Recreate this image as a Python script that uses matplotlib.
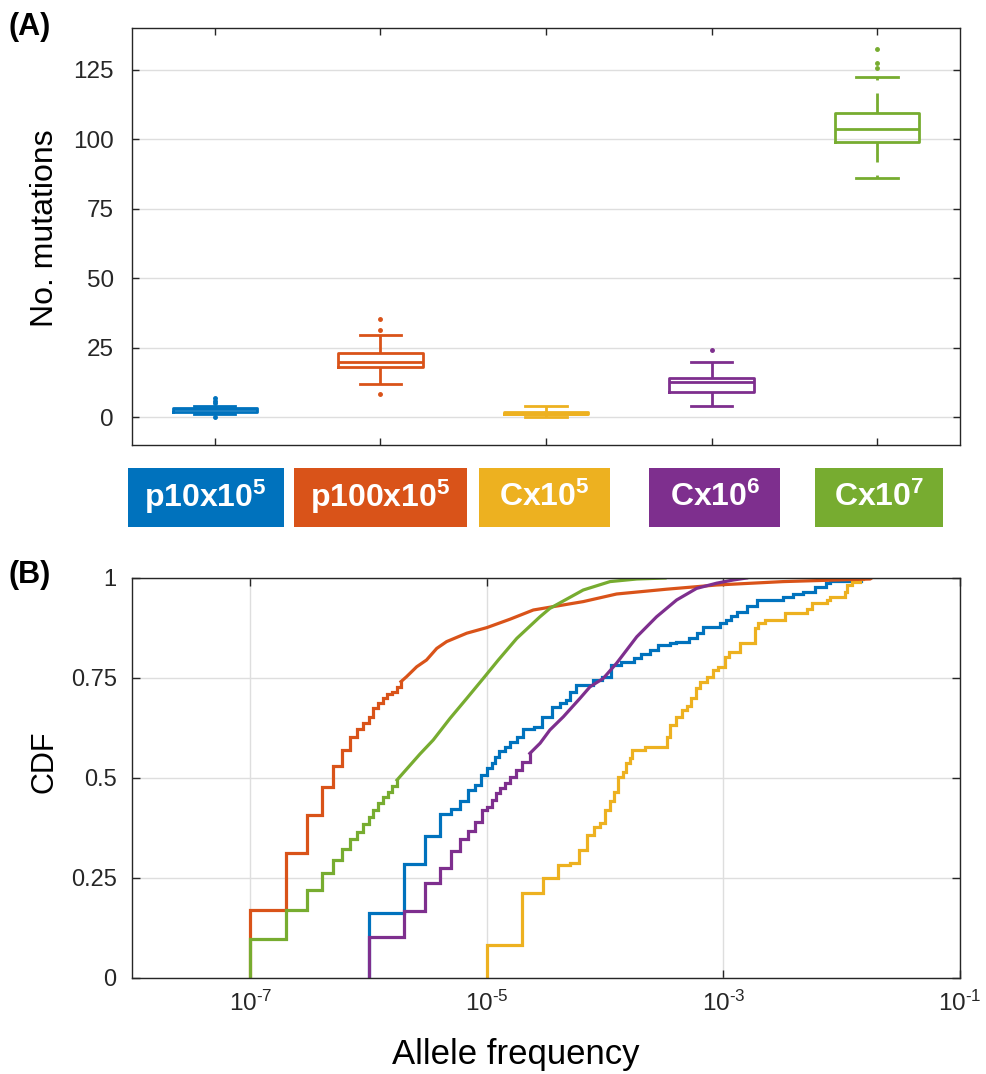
import matplotlib
matplotlib.use("Agg")
import matplotlib.pyplot as plt
import matplotlib.transforms as mtransforms
from matplotlib.patches import Rectangle

plt.rcParams["font.family"] = ["Liberation Sans", "DejaVu Sans"]
plt.rcParams["mathtext.fontset"] = "custom"
plt.rcParams["mathtext.rm"] = "Liberation Sans"
plt.rcParams["mathtext.it"] = "Liberation Sans:italic"
plt.rcParams["mathtext.bf"] = "Liberation Sans:bold"

# ---- panel A: number of mutations per condition ----
group_labels = [r"$\mathbf{p10x10^{5}}$", r"$\mathbf{p100x10^{5}}$",
                r"$\mathbf{Cx10^{5}}$", r"$\mathbf{Cx10^{6}}$", r"$\mathbf{Cx10^{7}}$"]
group_colors = ["#0072BD", "#D95319", "#EDB120", "#7E2F8E", "#77AC30"]

box_q1 = [2, 18, 1, 9, 99]
box_median = [3, 20, 1, 12.5, 103.5]
box_q3 = [3.4, 23, 2, 14, 109.5]
whisker_low = [1, 12, 0, 4, 86]
whisker_high = [4, 29.5, 4, 20, 122.5]
outliers = [[0, 5, 6, 7], [8.3, 31.3, 35.3], [], [24.2], [125.6, 127.5, 132.6]]

# ---- panel B: CDF of allele frequencies ----
freq_ticks = [1e-7, 1e-5, 1e-3, 1e-1]
freq_tick_labels = [r"$10^{\text{-7}}$", r"$10^{\text{-5}}$",
                    r"$10^{\text{-3}}$", r"$10^{\text{-1}}$"]
cdf_ticks = [0, 0.25, 0.5, 0.75, 1]
cdf_tick_labels = ["0", "0.25", "0.5", "0.75", "1"]

# stepped part of each curve: frequency of each jump and CDF after it
blue_step_af = [1e-6, 2e-6, 3e-6, 4e-6, 4.94e-6, 5.93e-6, 6.97e-6, 7.94e-6, 8.85e-6,
                1.0e-5, 1.10e-5, 1.17e-5, 1.27e-5, 1.42e-5, 1.58e-5, 1.79e-5, 2.04e-5,
                2.51e-5, 2.95e-5, 3.55e-5, 4.17e-5, 4.68e-5, 5.01e-5, 5.62e-5, 7.94e-5,
                9.33e-5, 1.12e-4, 1.35e-4, 1.74e-4, 2.0e-4, 2.40e-4, 2.82e-4, 3.55e-4,
                3.98e-4, 5.13e-4, 5.93e-4, 6.76e-4, 9.33e-4, 1.06e-3, 1.17e-3, 1.29e-3,
                1.58e-3, 1.91e-3, 3.20e-3, 3.89e-3, 4.68e-3, 5.89e-3, 7.41e-3, 7.94e-3,
                1.45e-2]
blue_step_cdf = [0.162, 0.284, 0.355, 0.409, 0.422, 0.4425, 0.47, 0.4825, 0.5075,
                 0.524, 0.538, 0.553, 0.5675, 0.578, 0.591, 0.603, 0.622,
                 0.628, 0.653, 0.678, 0.688, 0.695, 0.716, 0.7325, 0.745,
                 0.753, 0.7825, 0.79, 0.799, 0.81, 0.82, 0.8325, 0.838,
                 0.841, 0.85, 0.862, 0.878, 0.887, 0.895, 0.905, 0.916,
                 0.93, 0.945, 0.953, 0.96, 0.966, 0.978, 0.988, 0.993,
                 1.0]

orange_step_af = [1e-7, 2e-7, 3e-7, 4e-7, 5e-7, 6e-7, 7e-7, 8e-7, 9e-7, 1e-6,
                  1.08e-6, 1.19e-6, 1.32e-6, 1.42e-6, 1.57e-6, 1.74e-6, 1.88e-6]
orange_step_cdf = [0.17, 0.313, 0.407, 0.477, 0.53, 0.57, 0.602, 0.622, 0.637, 0.653,
                   0.674, 0.687, 0.699, 0.71, 0.716, 0.728, 0.741]
orange_tail_af = [1.88e-6, 2.09e-6, 2.55e-6, 3.09e-6, 3.77e-6, 4.57e-6, 6.76e-6, 1e-5,
                  1.57e-5, 2.47e-5, 6.53e-5, 1.25e-4, 3.31e-4, 8.75e-4, 3.2e-3,
                  1.74e-2, 1.79e-2]
orange_tail_cdf = [0.741, 0.753, 0.778, 0.795, 0.824, 0.841, 0.862, 0.876,
                   0.897, 0.92, 0.941, 0.96, 0.972, 0.9825, 0.991,
                   0.9975, 1.0]

yellow_step_af = [1e-5, 2e-5, 3e-5, 4e-5, 5e-5, 6e-5, 6.98e-5, 8.04e-5, 9.03e-5,
                  1.0e-4, 1.10e-4, 1.19e-4, 1.29e-4, 1.41e-4, 1.50e-4, 1.62e-4,
                  1.70e-4, 2.16e-4, 3.31e-4, 3.55e-4, 3.98e-4, 4.44e-4, 4.90e-4,
                  5.27e-4, 5.86e-4, 6.31e-4, 7.21e-4, 8.20e-4, 9.04e-4, 1.03e-3,
                  1.12e-3, 1.38e-3, 1.85e-3, 1.97e-3, 2.24e-3, 3.31e-3, 5.05e-3,
                  5.56e-3, 7.45e-3, 7.94e-3, 1.06e-2, 1.10e-2, 1.21e-2, 1.42e-2,
                  1.51e-2]
yellow_step_cdf = [0.0825, 0.213, 0.25, 0.282, 0.288, 0.32, 0.3575, 0.377, 0.388,
                   0.42, 0.443, 0.466, 0.503, 0.516, 0.537, 0.549,
                   0.57, 0.578, 0.603, 0.6325, 0.653, 0.67, 0.68,
                   0.699, 0.724, 0.741, 0.753, 0.77, 0.778, 0.803,
                   0.816, 0.838, 0.874, 0.887, 0.895, 0.913, 0.922,
                   0.937, 0.945, 0.953, 0.966, 0.9825, 0.991, 0.998,
                   1.0]

purple_step_af = [1e-6, 2e-6, 3e-6, 4e-6, 4.94e-6, 5.93e-6, 6.97e-6, 7.94e-6, 9.12e-6,
                  1.0e-5, 1.10e-5, 1.20e-5, 1.29e-5, 1.41e-5, 1.58e-5, 1.78e-5,
                  2.0e-5, 2.31e-5]
purple_step_cdf = [0.102, 0.168, 0.237, 0.274, 0.3175, 0.347, 0.3675, 0.389, 0.42,
                   0.428, 0.445, 0.462, 0.474, 0.488, 0.503, 0.52,
                   0.541, 0.5615]
purple_tail_af = [2.31e-5, 2.82e-5, 3.41e-5, 4.43e-5, 6.12e-5, 7.45e-5, 9.64e-5,
                  1.25e-4, 1.85e-4, 2.72e-4, 4.02e-4, 5.93e-4, 8.75e-4, 1.21e-3,
                  1.57e-3]
purple_tail_cdf = [0.5615, 0.587, 0.62, 0.653, 0.699, 0.728, 0.749,
                   0.787, 0.853, 0.903, 0.945, 0.974, 0.987, 0.995,
                   1.0]

green_step_af = [1e-7, 2e-7, 3e-7, 4e-7, 5e-7, 6e-7, 7e-7, 8e-7, 9e-7, 1e-6,
                 1.10e-6, 1.20e-6, 1.32e-6, 1.45e-6, 1.58e-6, 1.74e-6]
green_step_cdf = [0.097, 0.17, 0.22, 0.262, 0.295, 0.322, 0.347, 0.366, 0.385, 0.403,
                  0.42, 0.437, 0.453, 0.466, 0.48, 0.495]
green_tail_af = [1.74e-6, 2.72e-6, 3.52e-6, 4.88e-6, 6.76e-6, 9.33e-6, 1.25e-5,
                 1.79e-5, 2.81e-5, 3.41e-5, 6.53e-5, 1.10e-4, 1.85e-4, 3.21e-4]
green_tail_cdf = [0.495, 0.56, 0.595, 0.649, 0.699, 0.749, 0.795,
                  0.849, 0.903, 0.924, 0.97, 0.991, 0.9975, 1.0]

GRID = "#dedede"
AXIS = "#262626"
BOX_LW = 2.0
CDF_LW = 2.3

fig = plt.figure(figsize=(9.87, 10.74), dpi=100)
ax_a = fig.add_axes([132 / 987, 1 - 445 / 1074, 828 / 987, 417 / 1074])
ax_b = fig.add_axes([132 / 987, 1 - 978 / 1074, 828 / 987, 400 / 1074])

# box plots
positions = [1, 2, 3, 4, 5]
stats = []
for i in range(len(positions)):
    stats.append({"med": box_median[i], "q1": box_q1[i], "q3": box_q3[i],
                  "whislo": whisker_low[i], "whishi": whisker_high[i],
                  "fliers": outliers[i]})
parts = ax_a.bxp(stats, positions=positions, widths=0.51, showfliers=True,
                 manage_ticks=False,
                 boxprops=dict(linewidth=BOX_LW),
                 medianprops=dict(linewidth=BOX_LW),
                 whiskerprops=dict(linewidth=BOX_LW, linestyle=(0, (7.2, 4.7))),
                 capprops=dict(linewidth=BOX_LW),
                 flierprops=dict(marker="o", markersize=2.5, linestyle="none"))
for i, color in enumerate(group_colors):
    parts["boxes"][i].set_color(color)
    parts["medians"][i].set_color(color)
    for art in parts["whiskers"][2 * i:2 * i + 2] + parts["caps"][2 * i:2 * i + 2]:
        art.set_color(color)
    parts["fliers"][i].set_markerfacecolor(color)
    parts["fliers"][i].set_markeredgecolor(color)
for cap in parts["caps"]:
    xd = cap.get_xdata()
    mid = (xd[0] + xd[1]) / 2
    cap.set_xdata([mid - 0.125, mid + 0.125])

ax_a.set_xlim(0.5, 5.5)
ax_a.set_ylim(-10, 140)
ax_a.set_xticks(positions)
ax_a.set_xticklabels([])
ax_a.set_yticks([0, 25, 50, 75, 100, 125])
ax_a.tick_params(axis="x", direction="in", top=True, length=5, width=1, color=AXIS)
ax_a.tick_params(axis="y", direction="in", right=True, length=5, width=1, color=AXIS,
                 labelsize=17.5, labelcolor=AXIS, pad=13)
ax_a.yaxis.grid(True, color=GRID, linewidth=1)
ax_a.set_axisbelow(True)
ax_a.set_ylabel("No. mutations", fontsize=23, color="black")
ax_a.yaxis.set_label_coords(-0.087, 0.52)

# coloured condition labels under the box plots
label_centers = [0.945, 2.0, 2.99, 4.02, 5.01]
label_widths = [0.94, 1.04, 0.79, 0.79, 0.77]
strip = mtransforms.blended_transform_factory(ax_a.transData, fig.transFigure)
for cx, w, text, color in zip(label_centers, label_widths, group_labels, group_colors):
    fig.patches.append(Rectangle((cx - w / 2, 1 - 527 / 1074), w, 59 / 1074,
                                 transform=strip, facecolor=color, edgecolor="none"))
    fig.text(cx, 1 - 497 / 1074, text, transform=strip, ha="center", va="center",
             color="white", fontsize=23)

# CDF curves
step_series = [
    (blue_step_af, blue_step_cdf, group_colors[0]),
    (orange_step_af, orange_step_cdf, group_colors[1]),
    (yellow_step_af, yellow_step_cdf, group_colors[2]),
    (purple_step_af, purple_step_cdf, group_colors[3]),
    (green_step_af, green_step_cdf, group_colors[4]),
]
for af, cdf, color in step_series:
    ax_b.plot([af[0]] + af, [0] + cdf, drawstyle="steps-post", color=color,
              linewidth=CDF_LW, solid_joinstyle="miter")
tail_series = [
    (orange_tail_af, orange_tail_cdf, group_colors[1]),
    (purple_tail_af, purple_tail_cdf, group_colors[3]),
    (green_tail_af, green_tail_cdf, group_colors[4]),
]
for af, cdf, color in tail_series:
    ax_b.plot(af, cdf, color=color, linewidth=CDF_LW)

ax_b.set_xscale("log")
ax_b.set_xlim(1e-8, 1e-1)
ax_b.set_ylim(0, 1)
ax_b.set_xticks(freq_ticks)
ax_b.set_xticklabels(freq_tick_labels)
ax_b.xaxis.set_minor_locator(matplotlib.ticker.NullLocator())
ax_b.set_yticks(cdf_ticks)
ax_b.set_yticklabels(cdf_tick_labels)
ax_b.tick_params(axis="x", direction="in", top=True, length=6, width=1, color=AXIS,
                 labelsize=17.5, labelcolor=AXIS, pad=9)
ax_b.tick_params(axis="y", direction="in", right=True, length=6, width=1, color=AXIS,
                 labelsize=17, labelcolor=AXIS, pad=11)
ax_b.grid(True, color=GRID, linewidth=1)
ax_b.set_axisbelow(True)
ax_b.set_ylabel("CDF", fontsize=22, color="black")
ax_b.yaxis.set_label_coords(-0.087, 0.54)
ax_b.set_xlabel("Allele frequency", fontsize=25, color="black")
ax_b.xaxis.set_label_coords(0.464, -0.15)

for ax in (ax_a, ax_b):
    for spine in ax.spines.values():
        spine.set_color(AXIS)
        spine.set_linewidth(1)

fig.text(8 / 987, 1 - 12 / 1074, "(A)", fontsize=22, fontweight="bold", va="top", ha="left")
fig.text(8 / 987, 1 - 560 / 1074, "(B)", fontsize=22, fontweight="bold", va="top", ha="left")

fig.savefig("out.png", dpi=100, facecolor="white")
